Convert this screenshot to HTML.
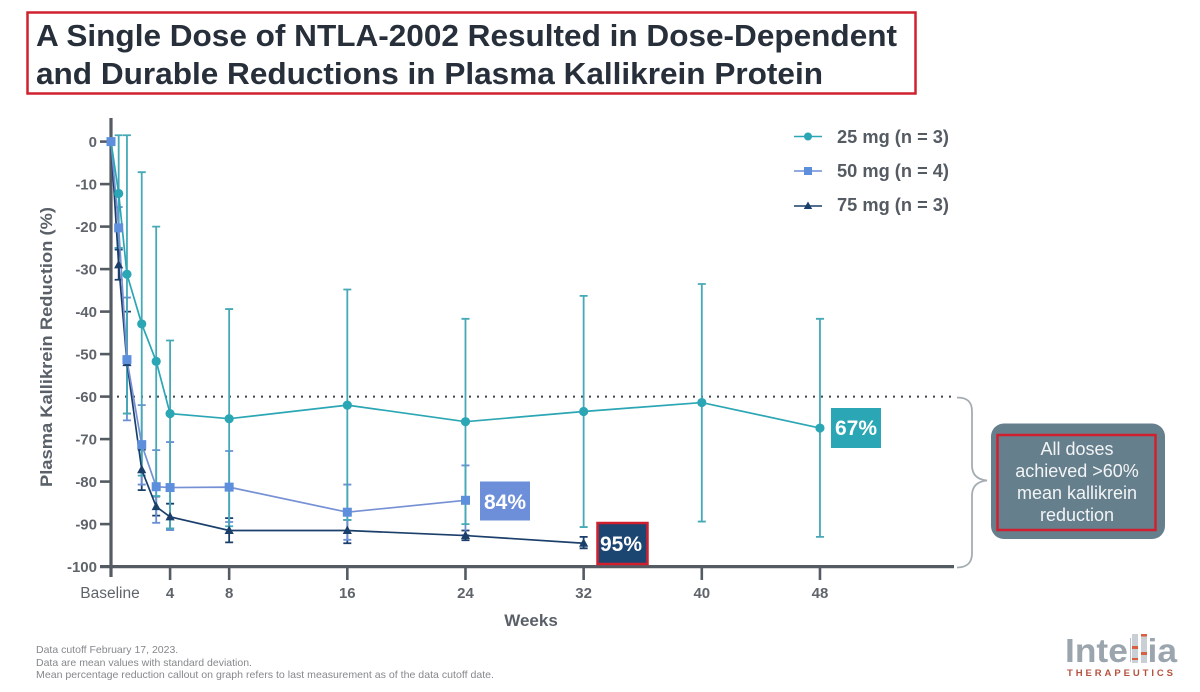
<!DOCTYPE html>
<html lang="en">
<head>
<meta charset="utf-8">
<title>NTLA-2002 Plasma Kallikrein Reduction</title>
<style>
html,body{margin:0;padding:0;background:#fff;width:1200px;height:692px;overflow:hidden}
svg{display:block;font-family:"Liberation Sans",Arial,sans-serif}
</style>
</head>
<body>
<svg id="chart" xmlns="http://www.w3.org/2000/svg" width="1200" height="692" viewBox="0 0 1200 692">
  <rect x="27.5" y="12.5" width="888" height="81" fill="#fff" stroke="#d0202f" stroke-width="2.5"/>
  <g font-size="31" font-weight="700" fill="#272f3a">
    <text x="36" y="46" textLength="861" lengthAdjust="spacingAndGlyphs">A Single Dose of NTLA-2002 Resulted in Dose-Dependent</text>
    <text x="36" y="84" textLength="787" lengthAdjust="spacingAndGlyphs">and Durable Reductions in Plasma Kallikrein Protein</text>
  </g>

  <g id="plot"></g>

  <text transform="translate(52,347) rotate(-90)" text-anchor="middle" font-size="17" font-weight="700" fill="#5a6068" textLength="280" lengthAdjust="spacingAndGlyphs">Plasma Kallikrein Reduction (%)</text>
  <text x="531" y="626" text-anchor="middle" font-size="17" font-weight="700" fill="#5a6068">Weeks</text>

  <g font-size="18" font-weight="700" fill="#555b63">
    <g>
      <line x1="794" x2="822" y1="136.5" y2="136.5" stroke="#2ba6b4" stroke-width="1.5"/>
      <circle cx="808" cy="136.5" r="4" fill="#2ba6b4"/>
      <text x="837" y="143" textLength="112" lengthAdjust="spacingAndGlyphs">25 mg (n = 3)</text>
    </g>
    <g>
      <line x1="794" x2="822" y1="171" y2="171" stroke="#6d8fd6" stroke-width="1.5"/>
      <rect x="804" y="167" width="8" height="8" fill="#5e8fdc"/>
      <text x="837" y="177" textLength="112" lengthAdjust="spacingAndGlyphs">50 mg (n = 4)</text>
    </g>
    <g>
      <line x1="794" x2="822" y1="206" y2="206" stroke="#1b3f6b" stroke-width="1.5"/>
      <path d="M808 201.5l4.2 7.5h-8.4z" fill="#1b3f6b"/>
      <text x="837" y="211" textLength="112" lengthAdjust="spacingAndGlyphs">75 mg (n = 3)</text>
    </g>
  </g>

  <g>
    <rect x="831" y="408" width="50" height="40" fill="#2ba6b4"/>
    <text x="856" y="435" text-anchor="middle" font-size="21" font-weight="700" fill="#fff">67%</text>
  </g>
  <g>
    <rect x="480" y="481.5" width="50" height="39" fill="#6d8fd9"/>
    <text x="505" y="509" text-anchor="middle" font-size="21" font-weight="700" fill="#fff">84%</text>
  </g>
  <g>
    <rect x="597.5" y="523" width="50" height="41" fill="#1c4672" stroke="#d0202f" stroke-width="2.5"/>
    <text x="621" y="551" text-anchor="middle" font-size="21" font-weight="700" fill="#fff">95%</text>
  </g>

  <path d="M957 397.5c10 0 15 4 15 14v54c0 9 5 14 15 15c-10 1-15 6-15 15v58c0 9-5 14-15 14" fill="none" stroke="#a4adb2" stroke-width="1.8"/>
  <g>
    <rect x="991" y="423.5" width="174" height="115.5" rx="13" fill="#667f8d"/>
    <rect x="997.5" y="435" width="158" height="95" fill="none" stroke="#d0202f" stroke-width="2.5"/>
    <g font-size="18" fill="#f2f4f5" text-anchor="middle">
      <text x="1077" y="455">All doses</text>
      <text x="1077" y="477">achieved &gt;60%</text>
      <text x="1077" y="499">mean kallikrein</text>
      <text x="1077" y="521">reduction</text>
    </g>
  </g>

  <g font-size="10.5" fill="#85888b">
    <text x="36" y="653">Data cutoff February 17, 2023.</text>
    <text x="36" y="666">Data are mean values with standard deviation.</text>
    <text x="36" y="678" textLength="458" lengthAdjust="spacingAndGlyphs">Mean percentage reduction callout on graph refers to last measurement as of the data cutoff date.</text>
  </g>

  <g>
    <text x="1065" y="662" font-size="33" font-weight="700" fill="#9aa5ad" textLength="112" lengthAdjust="spacingAndGlyphs">Intellia</text>
    <rect x="1131" y="633" width="18" height="31" fill="#fff"/>
    <rect x="1132" y="634" width="6" height="29" fill="#c9cfd4"/>
    <rect x="1141" y="634" width="6" height="29" fill="#c9cfd4"/>
    <rect x="1132" y="646" width="6" height="3" fill="#d9603f"/>
    <rect x="1141" y="634" width="6" height="2.5" fill="#d9603f"/>
    <rect x="1132" y="658" width="6" height="2" fill="#d9603f"/>
    <rect x="1141" y="652" width="6" height="3" fill="#d9603f"/>
    <text x="1067" y="676" font-size="9.5" font-weight="700" fill="#b5523f" textLength="106">THERAPEUTICS</text>
  </g>
</svg>

<script>
// Axis values
const yTicks = [0, -10, -20, -30, -40, -50, -60, -70, -80, -90, -100];
const xTicks = [4, 8, 16, 24, 32, 40, 48];
const thresholdValue = -60;

// 25 mg (n = 3)
const weeks25 = [0, 0.52, 1.08, 2.08, 3.06, 4, 8, 16, 24, 32, 40, 48];
const mean25 = [0, -12.2, -31.2, -42.9, -51.7, -64, -65.2, -62, -65.9, -63.5, -61.4, -67.4];
const upper25 = [0, 1.5, 1.5, -7.2, -20, -46.8, -39.4, -34.8, -41.7, -36.3, -33.5, -41.7];
const lower25 = [0, -25, -64, -78.6, -83.4, -91, -90.5, -89, -90, -90.7, -89.4, -93];

// 50 mg (n = 4)
const weeks50 = [0, 0.52, 1.08, 2.08, 3.06, 4, 8, 16, 24];
const mean50 = [0, -20.3, -51.3, -71.3, -81.2, -81.4, -81.3, -87.2, -84.4];
const upper50 = [0, -15.4, -36.7, -62, -72.6, -70.7, -72.8, -80.7, -76.2];
const lower50 = [0, -25, -65.6, -80.7, -89.7, -91.4, -89.5, -93.7, -92.6];

// 75 mg (n = 3)
const weeks75 = [0, 0.52, 1.08, 2.08, 3.06, 4, 8, 16, 24, 32];
const mean75 = [0, -29, -52, -77.2, -85.9, -88.3, -91.5, -91.5, -92.7, -94.5];
const upper75 = [0, -25.4, -40, -72.5, -83.5, -85.2, -88.6, -89, -91.5, -93];
const lower75 = [0, -32.5, -64, -82, -88, -91, -94.3, -94.5, -93.8, -95.7];

const SVGNS = 'http://www.w3.org/2000/svg';
const plot = document.getElementById('plot');

function xScale(week) { return 111 + week * 14.77; }
function yScale(value) { return 141.6 + value * -4.25; }

function make(tag, attrs, text) {
  const el = document.createElementNS(SVGNS, tag);
  for (const key in attrs) el.setAttribute(key, attrs[key]);
  if (text !== undefined) el.textContent = text;
  plot.appendChild(el);
  return el;
}

// Threshold
const threshold = make('line', {x1: 117, x2: 952, y1: yScale(thresholdValue), y2: yScale(thresholdValue), stroke: '#3f444b', 'stroke-width': 2, 'stroke-dasharray': '2 6'});



function drawErrors(weeks, upper, lower, color, label) {
  weeks.forEach(function (week, i) {
    if (week === 0) return;
    const x = xScale(week);
    const bar = make('path', {
      d: 'M' + (x - 4) + ' ' + yScale(upper[i]) + 'h8M' + x + ' ' + yScale(upper[i]) + 'V' + yScale(lower[i]) + 'M' + (x - 4) + ' ' + yScale(lower[i]) + 'h8',
      fill: 'none', stroke: color, 'stroke-width': 1.8
    });
    
    
  });
}

function drawLine(weeks, mean, color, label) {
  const points = weeks.map(function (week, i) { return xScale(week) + ',' + yScale(mean[i]); }).join(' ');
  const line = make('polyline', {points: points, fill: 'none', stroke: color, 'stroke-width': 1.7});
  
  
}

function drawCircles(weeks, mean, color) {
  weeks.forEach(function (week, i) {
    const dot = make('circle', {cx: xScale(week), cy: yScale(mean[i]), r: 4.6, fill: color});
    
    
  });
}

function drawSquares(weeks, mean, color) {
  weeks.forEach(function (week, i) {
    const square = make('rect', {x: xScale(week) - 4.5, y: yScale(mean[i]) - 4.5, width: 9, height: 9, fill: color});
    
    
  });
}

function drawTriangles(weeks, mean, color) {
  weeks.forEach(function (week, i) {
    const x = xScale(week);
    const y = yScale(mean[i]);
    const tri = make('path', {d: 'M' + x + ' ' + (y - 5) + 'l4.6 8.5h-9.2z', fill: color});
    
    
  });
}

// Axes
const axisColor = '#555b63';
const yAxis = make('line', {x1: 111, x2: 111, y1: 118, y2: 577, stroke: axisColor, 'stroke-width': 3.2});


const xAxis = make('line', {x1: 100, x2: 954, y1: yScale(-100), y2: yScale(-100), stroke: axisColor, 'stroke-width': 3.2});



yTicks.forEach(function (value) {
  const tick = make('line', {x1: 100, x2: 111, y1: yScale(value), y2: yScale(value), stroke: axisColor, 'stroke-width': 2.6});
  
  
  const label = make('text', {x: 97, y: yScale(value) + 5.5, 'text-anchor': 'end', 'font-size': 15, 'font-weight': 700, fill: '#5f646b'}, String(value));
  
  
});

xTicks.forEach(function (week) {
  const tick = make('line', {x1: xScale(week), x2: xScale(week), y1: yScale(-100), y2: 580, stroke: axisColor, 'stroke-width': 2.6});
  
  
  const label = make('text', {x: xScale(week), y: 598, 'text-anchor': 'middle', 'font-size': 15, 'font-weight': 700, fill: '#5f646b'}, String(week));
  
  
});

const baselineLabel = make('text', {x: 110, y: 598, 'text-anchor': 'middle', 'font-size': 15.5, fill: '#5f646b'}, 'Baseline');



drawErrors(weeks75, upper75, lower75, '#1b3f6b', '75mg');
drawErrors(weeks50, upper50, lower50, '#6d8fd6', '50mg');
drawErrors(weeks25, upper25, lower25, '#45a9b6', '25mg');
drawLine(weeks75, mean75, '#1b3f6b', '75mg');
drawLine(weeks50, mean50, '#7590d4', '50mg');
drawLine(weeks25, mean25, '#2ba6b4', '25mg');
drawTriangles(weeks75, mean75, '#1b3f6b');
drawCircles(weeks25, mean25, '#2ba6b4');
drawSquares(weeks50, mean50, '#5e8fdc');
</script>
</body>
</html>
